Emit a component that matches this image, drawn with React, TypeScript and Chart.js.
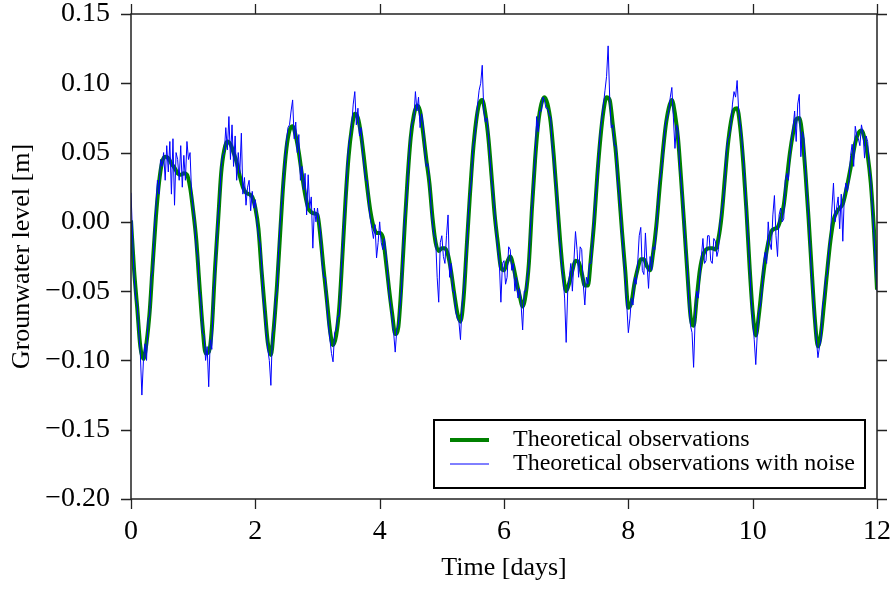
import React, { useEffect, useRef } from "react";
import { Chart, registerables } from "chart.js";

Chart.register(...registerables);

// Sampling grids (days)
const THEORY_STEP_DAYS = 0.05; // 241 readings, 0..12 d
const NOISY_STEP_DAYS = 0.025; // 481 readings, 0..12 d

// Theoretical observations (green), groundwater level [m], every 0.05 day
const theoreticalLevel = [
  0.001, -0.035, -0.062, -0.090, -0.099, -0.087, -0.065, -0.030, 0.003, 0.028, 0.043, 0.047, 0.046, 0.042, 0.039, 0.035, 0.034, 0.035, 0.034, 0.025,
  0.008, -0.013, -0.045, -0.075, -0.095, -0.094, -0.077, -0.035, 0.000, 0.035, 0.052, 0.058, 0.056, 0.050, 0.043, 0.033, 0.025, 0.021, 0.020, 0.018,
  0.010, -0.005, -0.035, -0.062, -0.087, -0.096, -0.075, -0.045, -0.008, 0.028, 0.053, 0.066, 0.069, 0.062, 0.050, 0.034, 0.020, 0.010, 0.007, 0.006,
  0.005, -0.012, -0.035, -0.056, -0.078, -0.089, -0.082, -0.062, -0.025, 0.015, 0.047, 0.067, 0.078, 0.075, 0.063, 0.045, 0.025, 0.008, -0.003, -0.008,
  -0.008, -0.011, -0.028, -0.048, -0.066, -0.081, -0.076, -0.045, -0.005, 0.032, 0.061, 0.077, 0.084, 0.080, 0.064, 0.045, 0.028, 0.003, -0.015, -0.021,
  -0.019, -0.019, -0.024, -0.036, -0.052, -0.066, -0.072, -0.055, -0.018, 0.018, 0.050, 0.072, 0.085, 0.088, 0.078, 0.060, 0.033, 0.005, -0.015, -0.033,
  -0.035, -0.029, -0.025, -0.032, -0.043, -0.053, -0.061, -0.052, -0.030, 0.010, 0.045, 0.071, 0.085, 0.090, 0.085, 0.072, 0.048, 0.018, -0.012, -0.037,
  -0.050, -0.044, -0.035, -0.028, -0.029, -0.037, -0.046, -0.046, -0.025, 0.000, 0.033, 0.060, 0.080, 0.090, 0.088, 0.070, 0.050, 0.022, -0.008, -0.035,
  -0.062, -0.058, -0.044, -0.034, -0.027, -0.027, -0.032, -0.035, -0.022, -0.003, 0.023, 0.048, 0.069, 0.082, 0.088, 0.078, 0.060, 0.030, -0.003, -0.037,
  -0.068, -0.075, -0.055, -0.035, -0.024, -0.020, -0.019, -0.019, -0.020, -0.012, 0.004, 0.030, 0.055, 0.072, 0.081, 0.082, 0.068, 0.042, 0.008, -0.032,
  -0.065, -0.082, -0.067, -0.046, -0.028, -0.015, -0.007, -0.005, -0.004, 0.002, 0.012, 0.031, 0.050, 0.064, 0.074, 0.075, 0.062, 0.035, 0.002, -0.035,
  -0.070, -0.090, -0.080, -0.058, -0.035, -0.014, 0.001, 0.007, 0.010, 0.013, 0.022, 0.033, 0.045, 0.057, 0.064, 0.066, 0.060, 0.048, 0.028, -0.005,
  -0.049,
];

// Theoretical observations with noise (blue), groundwater level [m], every 0.025 day (one row per day)
const noisyLevel = [
  0.021, -0.010, -0.040, -0.055, -0.060, -0.080, -0.095, -0.125, -0.100, -0.088, -0.100, -0.070, -0.068, -0.040, -0.035, -0.005, 0.010, 0.030, 0.020, 0.045, 0.040, 0.050, 0.030, 0.055, 0.036, 0.058, 0.020, 0.060, 0.012, 0.050, 0.045, 0.030, 0.055, 0.025, 0.048, 0.030, 0.058, 0.045, 0.050, 0.020,
  0.010, 0.000, -0.020, -0.025, -0.048, -0.058, -0.080, -0.082, -0.100, -0.090, -0.119, -0.085, -0.092, -0.050, -0.040, -0.015, 0.005, 0.015, 0.040, 0.048, 0.050, 0.068, 0.052, 0.076, 0.045, 0.070, 0.040, 0.062, 0.030, 0.050, 0.035, 0.064, 0.020, 0.032, 0.012, 0.025, 0.030, 0.008, 0.022, 0.010,
  0.016, 0.000, -0.010, -0.015, -0.030, -0.055, -0.065, -0.080, -0.092, -0.100, -0.118, -0.080, -0.078, -0.055, -0.050, -0.020, 0.000, 0.015, 0.030, 0.045, 0.058, 0.068, 0.070, 0.080, 0.088, 0.060, 0.072, 0.050, 0.063, 0.030, 0.040, 0.023, 0.035, 0.005, 0.034, 0.010, 0.018, -0.019, 0.010, 0.000,
  0.010, 0.000, -0.008, -0.030, -0.040, -0.040, -0.060, -0.075, -0.085, -0.095, -0.101, -0.080, -0.078, -0.068, -0.068, -0.040, -0.020, 0.000, 0.012, 0.040, 0.055, 0.062, 0.070, 0.085, 0.094, 0.070, 0.082, 0.062, 0.068, 0.050, 0.040, 0.030, 0.030, 0.012, 0.002, -0.005, -0.012, -0.002, -0.026, -0.015,
  0.000, -0.015, -0.020, -0.012, -0.022, -0.035, -0.052, -0.060, -0.070, -0.080, -0.094, -0.078, -0.074, -0.062, -0.050, -0.020, 0.002, 0.012, 0.030, 0.050, 0.066, 0.072, 0.074, 0.094, 0.080, 0.090, 0.068, 0.078, 0.070, 0.052, 0.040, 0.042, 0.030, 0.012, -0.002, -0.010, -0.012, -0.040, -0.058, -0.015,
  -0.010, -0.025, -0.030, -0.010, 0.005, -0.040, -0.030, -0.050, -0.050, -0.065, -0.070, -0.072, -0.085, -0.060, -0.050, -0.035, -0.020, 0.005, 0.020, 0.030, 0.054, 0.060, 0.070, 0.085, 0.095, 0.100, 0.113, 0.080, 0.072, 0.075, 0.062, 0.045, 0.030, 0.020, 0.008, -0.008, -0.020, -0.030, -0.058, -0.030,
  -0.028, -0.045, -0.040, -0.018, -0.020, -0.035, -0.030, -0.050, -0.040, -0.055, -0.048, -0.060, -0.078, -0.050, -0.050, -0.040, -0.032, -0.005, 0.012, 0.030, 0.045, 0.076, 0.065, 0.080, 0.080, 0.090, 0.088, 0.082, 0.082, 0.078, 0.075, 0.055, 0.045, 0.030, 0.020, 0.000, -0.015, -0.030, -0.040, -0.055,
  -0.087, -0.050, -0.040, -0.030, -0.050, -0.028, -0.007, -0.020, -0.040, -0.018, -0.020, -0.045, -0.060, -0.040, -0.045, -0.030, -0.030, -0.010, 0.004, 0.020, 0.030, 0.050, 0.066, 0.075, 0.085, 0.095, 0.105, 0.127, 0.090, 0.068, 0.070, 0.055, 0.055, 0.030, 0.020, 0.005, -0.010, -0.025, -0.040, -0.060,
  -0.080, -0.070, -0.055, -0.060, -0.040, -0.045, -0.030, -0.010, -0.004, -0.035, -0.038, -0.008, -0.030, -0.048, -0.025, -0.035, -0.018, -0.020, -0.006, 0.012, 0.028, 0.035, 0.045, 0.060, 0.072, 0.075, 0.080, 0.090, 0.097, 0.075, 0.053, 0.070, 0.066, 0.040, 0.028, 0.015, -0.005, -0.020, -0.035, -0.060,
  -0.075, -0.080, -0.105, -0.070, -0.050, -0.055, -0.040, -0.025, -0.012, -0.030, -0.028, -0.010, -0.010, -0.028, -0.030, -0.012, -0.014, -0.025, -0.020, 0.000, 0.008, 0.015, 0.026, 0.050, 0.060, 0.062, 0.070, 0.085, 0.094, 0.090, 0.102, 0.080, 0.070, 0.060, 0.045, 0.030, 0.005, -0.010, -0.030, -0.055,
  -0.070, -0.085, -0.103, -0.080, -0.065, -0.060, -0.050, -0.030, -0.022, -0.030, 0.000, -0.015, -0.020, 0.005, 0.019, -0.010, -0.025, 0.005, 0.010, 0.000, 0.002, 0.030, 0.035, 0.030, 0.048, 0.060, 0.068, 0.080, 0.058, 0.085, 0.092, 0.047, 0.065, 0.060, 0.038, 0.020, 0.004, -0.020, -0.040, -0.055,
  -0.072, -0.085, -0.098, -0.090, -0.085, -0.060, -0.055, -0.040, -0.038, -0.020, -0.010, 0.010, 0.028, 0.000, 0.010, 0.018, -0.005, 0.020, -0.014, 0.020, 0.028, 0.022, 0.030, 0.048, 0.056, 0.040, 0.069, 0.062, 0.060, 0.055, 0.070, 0.064, 0.046, 0.062, 0.058, 0.040, 0.030, 0.010, -0.008, -0.030,
  -0.050,
];

const theoryDays = theoreticalLevel.map((_, i) => Math.round(i * THEORY_STEP_DAYS * 1000) / 1000);
const noisyDays = noisyLevel.map((_, i) => Math.round(i * NOISY_STEP_DAYS * 1000) / 1000);

const seriesLabels = ["Theoretical observations", "Theoretical observations with noise"];
const xTickValues = [0, 2, 4, 6, 8, 10, 12];
const yTickValues = [-0.2, -0.15, -0.1, -0.05, 0, 0.05, 0.1, 0.15];

const FONT = '"Liberation Serif", "DejaVu Serif", "Times New Roman", serif';
const GREEN = "#008000";
const BLUE = "#0000ff";
const FRAME = "#222222";

function fmtY(v: number) {
  const s = Math.abs(v).toFixed(2);
  return v < -1e-9 ? "\u2212" + s : s;
}

const framePlugin = {
  id: "mplFrame",
  afterDatasetsDraw(chart: any) {
    const { ctx, chartArea } = chart;
    const { left, right, top, bottom } = chartArea;
    const xs = chart.scales.x;
    const ys = chart.scales.y;
    const tl = 10;
    ctx.save();
    ctx.strokeStyle = FRAME;
    ctx.lineWidth = 1.5;
    ctx.strokeRect(left, top, right - left, bottom - top);
    ctx.lineWidth = 1.3;
    ctx.beginPath();
    xTickValues.forEach((v) => {
      const px = Math.round(xs.getPixelForValue(v)) + 0.5;
      ctx.moveTo(px, bottom);
      ctx.lineTo(px, bottom + tl);
      ctx.moveTo(px, top);
      ctx.lineTo(px, top - tl);
    });
    yTickValues.forEach((v) => {
      const py = Math.round(ys.getPixelForValue(v)) + 0.5;
      ctx.moveTo(left, py);
      ctx.lineTo(left - tl, py);
      ctx.moveTo(right, py);
      ctx.lineTo(right + tl, py);
    });
    ctx.stroke();

    // legend box (lower right, inside axes)
    const bx = 434, by = 420, bw = 431, bh = 68;
    ctx.fillStyle = "#ffffff";
    ctx.fillRect(bx, by, bw, bh);
    ctx.strokeStyle = "#000000";
    ctx.lineWidth = 2;
    ctx.strokeRect(bx, by, bw, bh);
    const ds = chart.data.datasets;
    const rows = [
      { y: 440, ds: ds.find((d: any) => d.label === seriesLabels[0]) },
      { y: 464, ds: ds.find((d: any) => d.label === seriesLabels[1]) },
    ];
    ctx.font = `24px ${FONT}`;
    ctx.textBaseline = "middle";
    ctx.textAlign = "left";
    rows.forEach((r) => {
      ctx.strokeStyle = r.ds.borderColor;
      ctx.lineWidth = r.ds.borderWidth;
      ctx.beginPath();
      ctx.moveTo(450, r.y);
      ctx.lineTo(489, r.y);
      ctx.stroke();
      ctx.fillStyle = "#000000";
      ctx.fillText(r.ds.label, 513, r.y);
    });
    ctx.restore();
  },
};

export default function App() {
  const canvasRef = useRef<HTMLCanvasElement | null>(null);

  useEffect(() => {
    const canvas = canvasRef.current;
    if (!canvas) return;
    const chart = new Chart(canvas, {
      type: "line",
      data: {
        datasets: [
          {
            label: seriesLabels[0],
            data: theoryDays.map((d, i) => ({ x: d, y: theoreticalLevel[i] })),
            borderColor: GREEN,
            borderWidth: 4,
            pointRadius: 0,
            cubicInterpolationMode: "monotone",
            fill: false,
            order: 1,
          },
          {
            label: seriesLabels[1],
            data: noisyDays.map((d, i) => ({ x: d, y: noisyLevel[i] })),
            borderColor: BLUE,
            borderWidth: 1,
            pointRadius: 0,
            tension: 0,
            fill: false,
            order: 0,
          },
        ],
      },
      options: {
        animation: false,
        responsive: false,
        devicePixelRatio: 1,
        layout: { padding: { left: 0, right: 14, top: 14, bottom: 0 } },
        plugins: {
          legend: { display: false },
          tooltip: { enabled: false },
        },
        scales: {
          x: {
            type: "linear",
            min: 0,
            max: 12,
            grid: { display: false },
            border: { display: false },
            afterBuildTicks: (scale: any) => {
              scale.ticks = xTickValues.map((v) => ({ value: v }));
            },
            ticks: {
              color: "#000",
              font: { family: FONT, size: 28 },
              padding: 8,
              maxRotation: 0,
              callback: (v: any) => String(v),
            },
            title: {
              display: true,
              text: "Time [days]",
              color: "#000",
              font: { family: FONT, size: 26 },
              padding: { top: 0, bottom: 5 },
            },
            afterFit: (scale: any) => {
              scale.height = 90;
              scale.paddingLeft = 0;
              scale.paddingRight = 0;
            },
          },
          y: {
            type: "linear",
            min: -0.2,
            max: 0.15,
            grid: { display: false },
            border: { display: false },
            afterBuildTicks: (scale: any) => {
              scale.ticks = yTickValues.map((v) => ({ value: v }));
            },
            ticks: {
              color: "#000",
              font: { family: FONT, size: 28 },
              padding: 13,
              callback: (v: any) => fmtY(Number(v)),
            },
            title: {
              display: true,
              text: "Grounwater level [m]",
              color: "#000",
              font: { family: FONT, size: 26 },
              padding: { top: 7, bottom: 0 },
            },
            afterFit: (scale: any) => {
              scale.width = 131;
              scale.paddingTop = 0;
              scale.paddingBottom = 0;
            },
          },
        },
      },
      plugins: [framePlugin],
    } as any);
    return () => chart.destroy();
  }, []);

  return (
    <div style={{ position: "absolute", left: 0, top: 0, width: 891, height: 589, background: "#fff" }}>
      <canvas ref={canvasRef} width={891} height={589} style={{ display: "block", width: 891, height: 589 }} />
    </div>
  );
}
